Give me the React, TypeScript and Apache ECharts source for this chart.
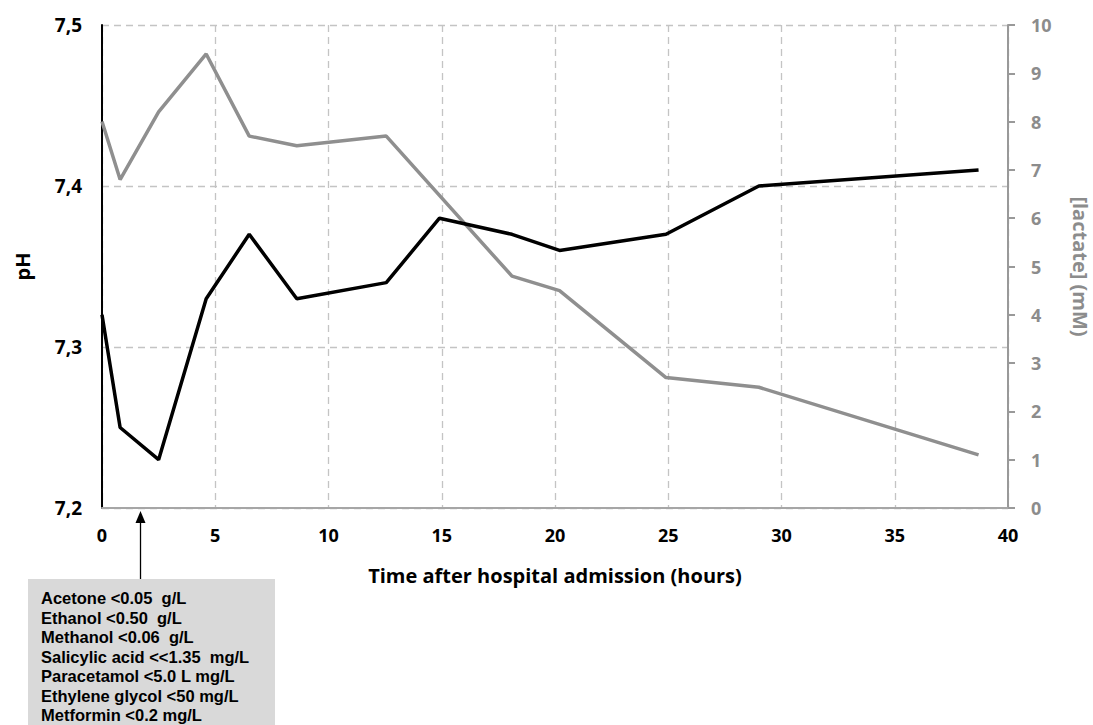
import React, { useEffect, useRef } from "react";
import * as echarts from "echarts";

const hoursPH = [0, 0.8, 2.5, 4.6, 6.5, 8.6, 12.55, 14.9, 18.1, 20.2, 24.9, 29.0, 38.7];
const phValues = [7.32, 7.25, 7.23, 7.33, 7.37, 7.33, 7.34, 7.38, 7.37, 7.36, 7.37, 7.40, 7.41];
const hoursLactate = [0, 0.8, 2.5, 4.6, 6.5, 8.6, 12.55, 18.1, 20.2, 24.9, 29.0, 38.7];
const lactateValues = [8.0, 6.8, 8.2, 9.4, 7.7, 7.5, 7.7, 4.8, 4.5, 2.7, 2.5, 1.1];
const boxLines = [
  "Acetone <0.05  g/L",
  "Ethanol <0.50  g/L",
  "Methanol <0.06  g/L",
  "Salicylic acid <<1.35  mg/L",
  "Paracetamol <5.0 L mg/L",
  "Ethylene glycol <50 mg/L",
  "Metformin <0.2 mg/L",
];
const arrowHour = 1.7;

const FONT = "'Open Sans', 'Noto Sans', sans-serif";
const BOX_FONT = "'Liberation Sans', Arial, sans-serif";

export default function App() {
  const ref = useRef<HTMLDivElement>(null);
  useEffect(() => {
    if (!ref.current) return;
    const chart = echarts.init(ref.current, null, { renderer: "svg" });
    const gridColor = "#c4c4c4";
    chart.setOption({
      animation: false,
      backgroundColor: "#ffffff",
      grid: { left: 102, right: 85, top: 25, bottom: 217, outerBoundsMode: "none", containLabel: false },
      xAxis: {
        type: "value",
        min: 0,
        max: 40,
        interval: 5,
        name: "Time after hospital admission (hours)",
        nameLocation: "middle",
        nameGap: 57,
        nameTextStyle: { fontFamily: FONT, fontWeight: "bold", fontSize: 20, color: "#000" },
        axisLine: { show: true, lineStyle: { color: "#a6a6a6", width: 2 } },
        axisTick: { show: false },
        axisLabel: { fontFamily: FONT, fontWeight: "bold", fontSize: 18, color: "#000", margin: 18 },
        splitLine: { show: true, lineStyle: { color: gridColor, type: [7, 5], width: 1.3 } },
      },
      yAxis: [
        {
          type: "value",
          min: 7.2,
          max: 7.5,
          interval: 0.1,
          name: "pH",
          nameLocation: "middle",
          nameGap: 70,
          nameRotate: 90,
          nameTextStyle: { fontFamily: FONT, fontWeight: "bold", fontSize: 20, color: "#000" },
          axisLine: { show: true, lineStyle: { color: "#000", width: 2 } },
          axisTick: { show: false },
          axisLabel: {
            fontFamily: FONT,
            fontWeight: "bold",
            fontSize: 19,
            color: "#000",
            margin: 20,
            formatter: (v: number) => v.toFixed(1).replace(".", ","),
          },
          splitLine: { show: true, lineStyle: { color: gridColor, type: [7, 5], width: 1.3 } },
        },
        {
          type: "value",
          min: 0,
          max: 10,
          interval: 1,
          position: "right",
          name: "[lactate] (mM)",
          nameLocation: "middle",
          nameGap: 62,
          nameRotate: -90,
          nameTextStyle: { fontFamily: FONT, fontWeight: "bold", fontSize: 20, color: "#8c8c8c" },
          axisLine: { show: true, lineStyle: { color: "#999999", width: 2 } },
          axisTick: { show: true, length: 7, lineStyle: { color: "#999999", width: 2 } },
          axisLabel: { fontFamily: FONT, fontWeight: "bold", fontSize: 18, color: "#8c8c8c", margin: 23 },
          splitLine: { show: false },
        },
      ],
      series: [
        {
          type: "line",
          yAxisIndex: 1,
          data: hoursLactate.map((h, i) => [h, lactateValues[i]]),
          symbol: "none",
          lineStyle: { color: "#8f8f8f", width: 3.5 },
          z: 2,
        },
        {
          type: "line",
          yAxisIndex: 0,
          data: hoursPH.map((h, i) => [h, phValues[i]]),
          symbol: "none",
          lineStyle: { color: "#000000", width: 3.5 },
          z: 3,
        },
      ],
    });
    const ax = chart.convertToPixel({ xAxisIndex: 0 }, arrowHour) as number;
    const axisY = chart.convertToPixel({ yAxisIndex: 0 }, 7.2) as number;
    const boxTop = 579;
    chart.setOption({
      graphic: [
        {
          type: "rect",
          shape: { x: 28, y: boxTop, width: 247, height: 150 },
          style: { fill: "#d9d9d9" },
          z: 10,
        },
        {
          type: "line",
          shape: { x1: ax, y1: axisY + 14, x2: ax, y2: boxTop },
          style: { stroke: "#000", lineWidth: 1.3 },
          z: 10,
        },
        {
          type: "polygon",
          shape: { points: [[ax, axisY + 3], [ax - 5, axisY + 15], [ax + 5, axisY + 15]] },
          style: { fill: "#000" },
          z: 10,
        },
        ...boxLines.map((t, i) => ({
          type: "text",
          x: 41,
          y: 598 + i * 19.5,
          style: {
            text: t,
            fill: "#000",
            font: `bold 16.5px ${BOX_FONT}`,
            verticalAlign: "middle",
            align: "left",
          },
          z: 11,
        })),
      ],
    });
    return () => chart.dispose();
  }, []);
  return (
    <div
      ref={ref}
      style={{ position: "absolute", left: 0, top: 0, width: 1093, height: 725 }}
    />
  );
}
